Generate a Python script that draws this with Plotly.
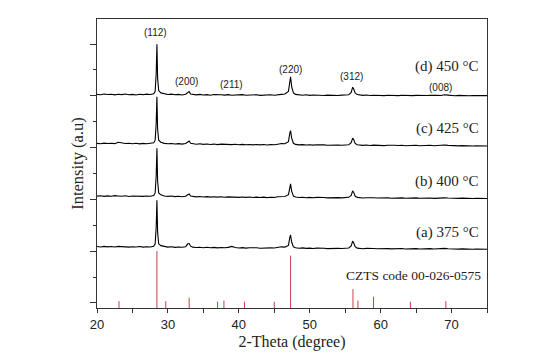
import plotly.graph_objects as go

# 2-theta sample positions (deg), denser around the reflections
two_theta = [
    20.0, 20.5, 21.0, 21.5, 22.0, 22.5, 23.0, 23.5, 24.0, 24.5, 25.0, 25.5, 26.0, 26.5, 27.0, 27.5, 28.0,
    28.2, 28.35, 28.45, 28.55, 28.7,
    29.0, 29.5, 30.0, 30.5, 31.0, 31.5, 32.0, 32.5,
    32.8, 33.0, 33.2,
    33.5, 34.0, 34.5, 35.0, 35.5, 36.0, 36.5, 37.0, 37.5, 38.0, 38.5, 39.0, 39.5, 40.0, 40.5, 41.0,
    41.5, 42.0, 42.5, 43.0, 43.5, 44.0, 44.5, 45.0, 45.5, 46.0, 46.5,
    47.0, 47.2, 47.3, 47.45, 47.7,
    48.0, 48.5, 49.0, 49.5, 50.0, 50.5, 51.0, 51.5, 52.0, 52.5, 53.0, 53.5, 54.0, 54.5, 55.0, 55.5,
    55.85, 56.05, 56.2, 56.4, 56.7,
    57.0, 57.5, 58.0, 58.5, 59.0, 59.5, 60.0, 60.5, 61.0, 61.5, 62.0, 62.5, 63.0, 63.5, 64.0, 64.5,
    65.0, 65.5, 66.0, 66.5, 67.0, 67.5, 68.0, 68.5, 69.0, 69.5, 70.0, 70.5, 71.0, 71.5, 72.0, 72.5,
    73.0, 73.5, 74.0, 74.5, 75.0,
]

int_450 = [
    112, 104, 118, 108, 115, 102, 113, 107, 119, 105, 111, 100, 114, 106, 117, 109, 122,
    170, 520, 1080, 420, 185,
    140, 120, 110, 116, 104, 112, 101, 113,
    150, 165, 118,
    108, 102, 111, 99, 107, 96, 109, 100, 105, 97, 106, 95, 103, 98, 107, 94,
    101, 96, 104, 93, 100, 97, 105, 95, 108, 112, 118,
    170, 360, 450, 260, 140,
    112, 100, 95, 103, 92, 99, 94, 101, 90, 98, 93, 100, 91, 97, 95, 104,
    150, 250, 215, 140, 108,
    98, 92, 99, 89, 96, 91, 98, 88, 95, 90, 97, 87, 94, 90, 96, 88,
    93, 87, 95, 89, 92, 86, 94, 90, 104, 98, 90, 85, 92, 87, 91, 84,
    90, 86, 89, 83, 88,
]

int_425 = [
    128, 121, 133, 124, 130, 122, 150, 138, 126, 131, 120, 129, 118, 127, 121, 130, 138,
    190, 520, 1030, 400, 190,
    150, 128, 119, 126, 115, 123, 114, 124,
    160, 172, 130,
    118, 111, 120, 108, 116, 106, 114, 104, 113, 105, 111, 103, 110, 101, 109, 100,
    107, 99, 106, 98, 105, 97, 104, 100, 112, 124, 121,
    160, 330, 375, 230, 130,
    108, 98, 104, 95, 101, 93, 100, 92, 98, 91, 97, 90, 96, 92, 95, 102,
    140, 228, 200, 128, 100,
    94, 88, 95, 86, 93, 87, 92, 85, 91, 84, 90, 86, 92, 83, 89, 85,
    91, 82, 88, 84, 90, 81, 87, 83, 95, 88, 82, 87, 80, 85, 79, 84,
    78, 83, 79, 82, 77,
]

int_400 = [
    124, 131, 119, 128, 122, 133, 126, 120, 129, 117, 126, 121, 130, 118, 125, 122, 135,
    185, 530, 1045, 410, 185,
    148, 124, 118, 125, 113, 121, 112, 120,
    150, 165, 125,
    114, 109, 117, 106, 113, 104, 112, 103, 110, 102, 109, 104, 108, 99, 106, 98,
    105, 97, 104, 96, 103, 95, 102, 98, 110, 120, 116,
    150, 320, 360, 220, 125,
    105, 96, 102, 93, 99, 91, 98, 90, 96, 89, 95, 88, 94, 90, 93, 100,
    138, 225, 195, 125, 98,
    92, 86, 93, 85, 91, 86, 90, 84, 89, 83, 88, 85, 90, 82, 88, 84,
    89, 81, 87, 83, 88, 80, 86, 82, 90, 86, 81, 86, 79, 84, 78, 83,
    77, 82, 78, 81, 76,
]

int_375 = [
    127, 119, 130, 121, 128, 118, 131, 122, 127, 116, 125, 119, 128, 117, 124, 120, 134,
    180, 510, 1020, 400, 180,
    145, 123, 116, 124, 112, 120, 113, 125,
    180, 185, 135,
    117, 108, 115, 105, 113, 103, 111, 102, 109, 103, 112, 130, 110, 100, 107, 98,
    105, 97, 103, 96, 102, 95, 101, 99, 111, 122, 117,
    150, 310, 350, 215, 122,
    104, 95, 101, 92, 98, 90, 97, 89, 95, 88, 94, 87, 93, 89, 92, 99,
    140, 232, 200, 126, 97,
    91, 85, 92, 84, 90, 85, 89, 83, 88, 82, 87, 84, 89, 81, 87, 83,
    88, 80, 86, 82, 87, 79, 85, 81, 92, 85, 80, 85, 78, 83, 77, 82,
    76, 81, 77, 80, 75,
]

samples = [int_375, int_400, int_425, int_450]
offsets = [962, 1940, 2954, 3916]
sample_labels = ["(a) 375 °C", "(b) 400 °C", "(c) 425 °C", "(d) 450 °C"]
label_y = [1370, 2355, 3378, 4574]

# CZTS reference pattern 00-026-0575
ref_pos = [23.1, 28.45, 29.7, 33.0, 37.0, 37.9, 40.8, 45.0, 47.3, 56.1, 56.8, 59.0, 64.2, 69.2]
ref_int = [12, 100, 12, 18, 11, 13, 11, 11, 92, 33, 13, 20, 11, 12]

hkl = ["(112)", "(200)", "(211)", "(220)", "(312)", "(008)"]
hkl_x = [28.3, 32.6, 38.9, 47.3, 55.9, 68.4]
hkl_y = [5230, 4285, 4227, 4516, 4381, 4169]

Y_MIN, Y_MAX = -97, 5483
serif = "Liberation Serif"
sans = "Liberation Sans"

fig = go.Figure()

for s, off in zip(samples, offsets):
    fig.add_trace(go.Scatter(
        x=two_theta, y=[v + off for v in s], mode="lines",
        line=dict(color="black", width=1.1), showlegend=False, hoverinfo="skip",
    ))

sx, sy = [], []
for p, i in zip(ref_pos, ref_int):
    sx += [p, p, None]
    sy += [Y_MIN, Y_MIN + i * 11, None]
fig.add_trace(go.Scatter(x=sx, y=sy, mode="lines",
                         line=dict(color="#c8404a", width=1), showlegend=False))

for t, x, y in zip(hkl, hkl_x, hkl_y):
    fig.add_annotation(x=x, y=y, text=t, showarrow=False,
                       font=dict(family=sans, size=10, color="#222"))

for t, y in zip(sample_labels, label_y):
    fig.add_annotation(x=74.2, y=y, text=t, showarrow=False, xanchor="right",
                       font=dict(family=serif, size=15, color="#222"))

fig.add_annotation(x=74.4, y=540, text="CZTS code 00-026-0575", showarrow=False,
                   xanchor="right", font=dict(family=serif, size=13.5, color="#222"))

# page body keeps an 8px margin, so the figure is drawn 8px in from the corner
fig.update_layout(
    width=526, height=354,
    margin=dict(l=89, r=47, t=11, b=54),
    paper_bgcolor="white", plot_bgcolor="white",
    xaxis=dict(
        range=[20, 75], tickvals=[20, 30, 40, 50, 60, 70],
        ticks="outside", ticklen=4, tickcolor="#333",
        minor=dict(dtick=5, tick0=0, ticks="outside", ticklen=4, tickcolor="#333"),
        showline=True, linecolor="#333", linewidth=1, mirror=True,
        showgrid=False, zeroline=False,
        tickfont=dict(family=sans, size=13, color="#222"),
        title=dict(text="2-Theta (degree)", font=dict(family=serif, size=16, color="#222"), standoff=5),
    ),
    yaxis=dict(
        range=[Y_MIN, Y_MAX], tickvals=[0, 1000, 2000, 3000, 4000, 5000],
        ticks="outside", ticklen=6, tickcolor="#333", showticklabels=False,
        minor=dict(dtick=500, tick0=0, ticks="outside", ticklen=3, tickcolor="#333"),
        showline=True, linecolor="#333", linewidth=1, mirror=True,
        showgrid=False, zeroline=False,
        title=dict(text="Intensity (a.u)", font=dict(family=serif, size=16.5, color="#222"), standoff=2),
    ),
)

fig.write_html("out.html")
